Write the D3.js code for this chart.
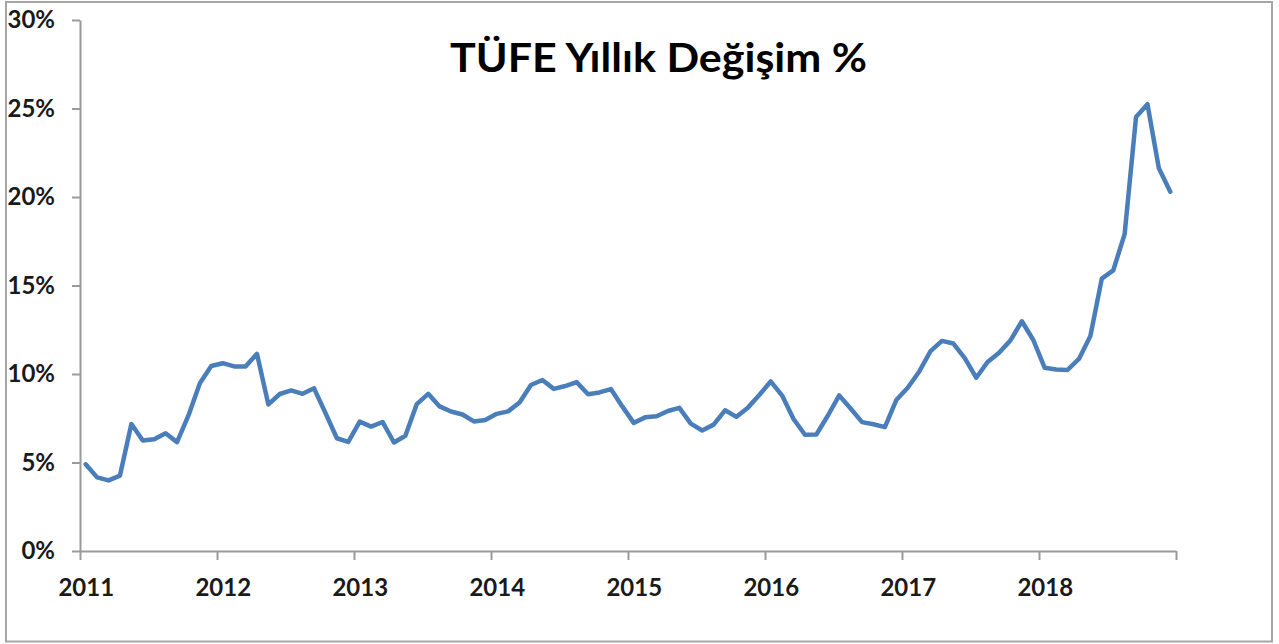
<!DOCTYPE html>
<html>
<head>
<meta charset="utf-8">
<script src="https://cdn.jsdelivr.net/npm/d3@7"></script>
<style>
  html, body { margin: 0; padding: 0; background: #fff; }
  svg { display: block; font-family: Lato, "Open Sans", sans-serif; }
</style>
</head>
<body>
<div id="chart"></div>
<script>
// yearly labels on the x axis
const years = ['2011', '2012', '2013', '2014', '2015', '2016', '2017', '2018'];

// monthly values, annual CPI change in percent, Jan 2011 .. Dec 2018
const values2011 = [4.90, 4.16, 3.99, 4.26, 7.17, 6.24, 6.31, 6.65, 6.15, 7.66, 9.48, 10.45];
const values2012 = [10.61, 10.43, 10.43, 11.14, 8.28, 8.87, 9.07, 8.88, 9.19, 7.80, 6.37, 6.16];
const values2013 = [7.31, 7.03, 7.29, 6.13, 6.51, 8.30, 8.88, 8.17, 7.88, 7.71, 7.32, 7.40];
const values2014 = [7.75, 7.89, 8.39, 9.38, 9.66, 9.16, 9.32, 9.54, 8.86, 8.96, 9.15, 8.17];
const values2015 = [7.24, 7.55, 7.61, 7.91, 8.09, 7.20, 6.81, 7.14, 7.95, 7.58, 8.10, 8.81];
const values2016 = [9.58, 8.78, 7.46, 6.57, 6.58, 7.64, 8.79, 8.05, 7.28, 7.16, 7.00, 8.53];
const values2017 = [9.22, 10.13, 11.29, 11.87, 11.72, 10.90, 9.79, 10.68, 11.20, 11.90, 12.98, 11.92];
const values2018 = [10.35, 10.26, 10.23, 10.85, 12.15, 15.39, 15.85, 17.90, 24.52, 25.24, 21.62, 20.30];

const yTicks = [0, 5, 10, 15, 20, 25, 30];
const title = 'TÜFE Yıllık Değişim %';

const width = 1279;
const height = 644;

const series = [values2011, values2012, values2013, values2014,
  values2015, values2016, values2017, values2018];
const data = [];
series.forEach((vals, yi) => {
  vals.forEach((v, m) => data.push({ year: years[yi], month: m, i: yi * 12 + m, value: v }));
});

const margin = { left: 80, right: 1176, top: 20, bottom: 551 };

// category axis, points sit in the middle of each month band
const x = d3.scaleBand()
  .domain(data.map((d) => d.i))
  .range([margin.left, margin.right])
  .paddingInner(0)
  .paddingOuter(0);
const xEdge = d3.scaleLinear()
  .domain([0, data.length])
  .range([margin.left, margin.right]);
const y = d3.scaleLinear()
  .domain([0, 30])
  .range([margin.bottom, margin.top]);

const axisColor = '#9a9a9a';

const svg = d3.create('svg')
  .attr('width', width)
  .attr('height', height)
  .attr('viewBox', [0, 0, width, height]);

// chart area border
svg.append('rect')
  .attr('x', 6)
  .attr('y', 2)
  .attr('width', 1266)
  .attr('height', 639.5)
  .attr('fill', '#fff')
  .attr('stroke', '#a6a6a6')
  .attr('stroke-width', 2);

// y axis
const yAxis = svg.append('g')
  .attr('transform', `translate(${margin.left},0)`)
  .call(d3.axisLeft(y)
    .tickValues(yTicks)
    .tickSize(8)
    .tickSizeOuter(0)
    .tickPadding(17)
    .tickFormat((d) => `${d}%`));
yAxis.select('.domain').attr('stroke', axisColor).attr('stroke-width', 2);
yAxis.selectAll('.tick line').attr('stroke', axisColor).attr('stroke-width', 2);
yAxis.selectAll('.tick text')
  .attr('fill', '#1a1a1a')
  .attr('font-size', 24)
  .attr('font-weight', 'bold')
  .attr('font-family', 'Lato, sans-serif');

// x axis, ticks at year boundaries and one at the end
const xTickValues = d3.range(0, data.length + 1, 12);
const xAxis = svg.append('g')
  .attr('transform', `translate(0,${margin.bottom})`)
  .call(d3.axisBottom(xEdge)
    .tickValues(xTickValues)
    .tickSize(9)
    .tickSizeOuter(0)
    .tickPadding(19)
    .tickFormat((d) => (d < data.length ? years[d / 12] : '')));
xAxis.select('.domain').attr('stroke', axisColor).attr('stroke-width', 2);
xAxis.selectAll('.tick line').attr('stroke', axisColor).attr('stroke-width', 2);
xAxis.selectAll('.tick text')
  .attr('x', x.bandwidth() / 2)
  .attr('fill', '#1a1a1a')
  .attr('font-size', 24)
  .attr('font-weight', 'bold')
  .attr('font-family', 'Lato, sans-serif');

// the line
const line = d3.line()
  .x((d) => x(d.i) + x.bandwidth() / 2)
  .y((d) => y(d.value));

svg.append('path')
  .datum(data)
  .attr('fill', 'none')
  .attr('stroke', '#4a7ebb')
  .attr('stroke-width', 4.5)
  .attr('stroke-linejoin', 'round')
  .attr('stroke-linecap', 'round')
  .attr('d', line);

// title
svg.append('text')
  .attr('x', 450)
  .attr('y', 72)
  .attr('font-size', 40)
  .attr('font-weight', 'bold')
  .attr('fill', '#000')
  .attr('textLength', 417)
  .attr('lengthAdjust', 'spacingAndGlyphs')
  .text(title);

document.querySelector('#chart').appendChild(svg.node());
</script>
</body>
</html>
